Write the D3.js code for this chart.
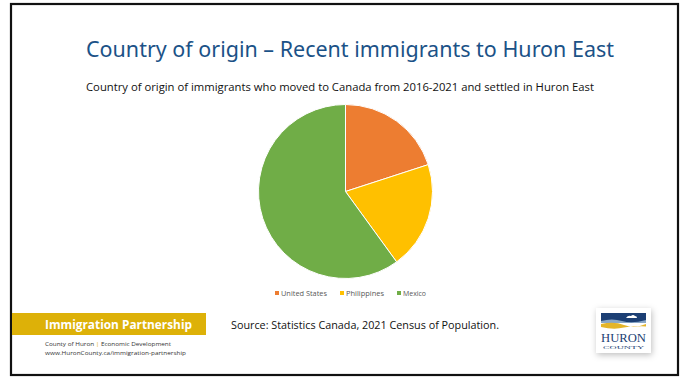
<!DOCTYPE html>
<html>
<head>
<meta charset="utf-8">
<script src="https://cdn.jsdelivr.net/npm/d3@7/dist/d3.min.js"></script>
<style>
  html, body { margin: 0; padding: 0; background: #fff; }
  svg { display: block; }
</style>
</head>
<body>
<svg id="slide" width="685" height="378"></svg>
<script>
// Recent immigrants (2016-2021) settled in Huron East, by country of origin
const countries = ["United States", "Philippines", "Mexico"];
const shares = [20, 20, 60];
const sliceColors = ["#ED7D31", "#FFC000", "#70AD47"];

const titleText = "Country of origin \u2013 Recent immigrants to Huron East";
const subtitleText = "Country of origin of immigrants who moved to Canada from 2016-2021 and settled in Huron East";
const sourceText = "Source: Statistics Canada, 2021 Census of Population.";

const svg = d3.select("#slide");

// slide frame
svg.append("rect")
  .attr("x", 11).attr("y", 4).attr("width", 667).attr("height", 371)
  .attr("fill", "#fff").attr("stroke", "#111").attr("stroke-width", 2.2);

// helper: fit text to a measured width
function fit(sel, w) {
  sel.attr("textLength", w).attr("lengthAdjust", "spacingAndGlyphs");
  return sel;
}

fit(svg.append("text")
  .attr("x", 86).attr("y", 57)
  .attr("font-family", "'Noto Sans', 'Open Sans', sans-serif")
  .attr("font-size", 21.5)
  .attr("fill", "#1B5287")
  .text(titleText), 528);

fit(svg.append("text")
  .attr("x", 86).attr("y", 91)
  .attr("font-family", "'Open Sans', 'Noto Sans', sans-serif")
  .attr("font-size", 10.2)
  .attr("fill", "#111")
  .text(subtitleText), 508);

// pie
const cx = 345.5, cy = 191.5, r = 87;
const pie = d3.pie().sort(null).value(d => d.value);
const arc = d3.arc().innerRadius(0).outerRadius(r);
const data = countries.map((c, i) => ({ name: c, value: shares[i], color: sliceColors[i] }));

svg.append("g")
  .attr("transform", `translate(${cx},${cy})`)
  .selectAll("path")
  .data(pie(data))
  .join("path")
  .attr("d", arc)
  .attr("fill", d => d.data.color)
  .attr("stroke", "#fff")
  .attr("stroke-width", 1);

// legend
const legendX = [275, 340, 397];
const legendW = [46, 38, 23];
const legend = svg.append("g");
data.forEach((d, i) => {
  legend.append("rect")
    .attr("x", legendX[i]).attr("y", 291)
    .attr("width", 4).attr("height", 4)
    .attr("fill", d.color);
  fit(legend.append("text")
    .attr("x", legendX[i] + 6).attr("y", 295.5)
    .attr("font-family", "'Open Sans', 'Noto Sans', sans-serif")
    .attr("font-size", 7.2)
    .attr("fill", "#595959")
    .text(d.name), legendW[i]);
});

// footer band
svg.append("rect")
  .attr("x", 12).attr("y", 313).attr("width", 194).attr("height", 22)
  .attr("fill", "#DDB108");
fit(svg.append("text")
  .attr("x", 45).attr("y", 329)
  .attr("font-family", "'Open Sans', 'Noto Sans', sans-serif")
  .attr("font-size", 12)
  .attr("font-weight", "bold")
  .attr("fill", "#fff")
  .text("Immigration Partnership"), 147);

const small = svg.append("text")
  .attr("x", 45).attr("y", 346)
  .attr("font-family", "'Open Sans', 'Noto Sans', sans-serif")
  .attr("font-size", 6)
  .attr("fill", "#333");
small.append("tspan").text("County of Huron ");
small.append("tspan").attr("fill", "#DDB108").text("|");
small.append("tspan").text(" Economic Development");
fit(small, 126);

fit(svg.append("text")
  .attr("x", 45).attr("y", 355)
  .attr("font-family", "'Open Sans', 'Noto Sans', sans-serif")
  .attr("font-size", 6)
  .attr("fill", "#333")
  .text("www.HuronCounty.ca/immigration-partnership"), 141);

fit(svg.append("text")
  .attr("x", 231).attr("y", 329)
  .attr("font-family", "'Open Sans', 'Noto Sans', sans-serif")
  .attr("font-size", 11.5)
  .attr("fill", "#111")
  .text(sourceText), 268);

// county logo
const defs = svg.append("defs");
const f = defs.append("filter").attr("id", "shadow")
  .attr("x", "-30%").attr("y", "-30%").attr("width", "160%").attr("height", "160%");
f.append("feDropShadow").attr("dx", 1).attr("dy", 2).attr("stdDeviation", 3)
  .attr("flood-color", "#000").attr("flood-opacity", 0.25);

const logo = svg.append("g");
logo.append("rect")
  .attr("x", 596).attr("y", 308).attr("width", 55).attr("height", 45)
  .attr("fill", "#fff").attr("filter", "url(#shadow)");
logo.append("rect")
  .attr("x", 601).attr("y", 313).attr("width", 45).attr("height", 10)
  .attr("fill", "#1C3F74");
logo.append("path")
  .attr("d", "M601,321 Q612,318 622,321 T646,320 L646,323 L601,323 Z")
  .attr("fill", "#8AA8C8");
logo.append("path")
  .attr("d", "M626,318 q2,-3 5,-2 q2,-2 4,0 q2,0 2,2 Z")
  .attr("fill", "#fff");
logo.append("path")
  .attr("d", "M601,324 Q614,321 624,325 T646,324 L646,326.5 Q634,325 624,327.5 T601,327 Z")
  .attr("fill", "#E4B52A");
fit(logo.append("text")
  .attr("x", 601).attr("y", 342)
  .attr("font-family", "'Liberation Serif', 'DejaVu Serif', serif")
  .attr("font-size", 12)
  .attr("fill", "#1C3F74")
  .text("HURON"), 45);
fit(logo.append("text")
  .attr("x", 603).attr("y", 348.5)
  .attr("font-family", "'Liberation Serif', 'DejaVu Serif', serif")
  .attr("font-size", 4.5)
  .attr("fill", "#1C3F74")
  .text("COUNTY"), 41);
</script>
</body>
</html>
